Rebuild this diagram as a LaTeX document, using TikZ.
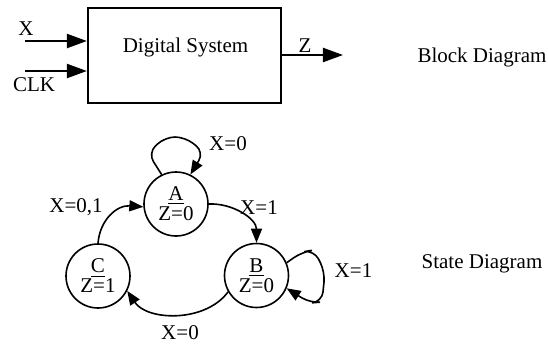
\documentclass[tikz,border=0pt]{standalone}
\usepackage{fontspec}
\setmainfont{Liberation Serif}
\usetikzlibrary{arrows.meta}

\begin{document}
\begin{tikzpicture}[
    x=0.5pt,y=0.5pt,
    every node/.style={font=\fontsize{10.5}{10}\selectfont},
    box/.style={
        draw,line width=1.1pt,
        minimum width=96.5pt,minimum height=47.5pt
    },
    state/.style={
        draw,circle,line width=0.8pt,
        minimum size=32pt,inner sep=0pt,align=center
    },
    sig/.style={line width=1.1pt,-{Triangle[length=10pt,width=7pt]}},
    trans/.style={line width=0.8pt,-{Triangle[length=7pt,width=5.5pt]}},
    lbl/.style={inner sep=0pt}
]
\useasboundingbox (0,0) rectangle (548,345);
% block diagram
\node[box] (sys) at (184.5,289.5) {};
\node[lbl] (systext) at (185.5,297.5) {Digital System};
\coordinate (xin) at (25,304);
\coordinate (clkin) at (25,274);
\coordinate (zout) at (343,290);
\draw[sig] (xin) -- (xin -| sys.west);
\draw[sig] (clkin) -- (clkin -| sys.west);
\draw[sig] (zout -| sys.east) -- (zout);
\node[lbl] (xlabel) at (26,316.5) {X};
\node[lbl] (clklabel) at (34,260.5) {CLK};
\node[lbl] (zlabel) at (305,299) {Z};
\node[lbl] (blockcap) at (482,287.5) {Block Diagram};

% state diagram
\node[state] (A) at (176,141) {\underline{A}\\Z=0};
\node[state] (B) at (256.5,69.5) {\underline{B}\\Z=0};
\node[state] (C) at (98,69) {\underline{C}\\Z=1};
\draw[trans,rounded corners=5pt] (A.116) -- (148,192) -- (165,208)
  -- (185,208) -- (204,193) -- (A.64);
\draw[trans,rounded corners=5pt] (B.23) -- (302,93) -- (314,95)
  -- (325,73) -- (322,43) -- (310,42) -- (B.337);
\draw[trans] (A.east) .. controls +(24,1) and +(0,24) .. (B.north);
\draw[trans] (C.north) .. controls +(2,24) and +(-26,2) .. (A.185);
\draw[trans] (B.210) .. controls +(-23,-31) and +(20,-30) .. (C.333);
\node[lbl] (lblaa) at (228,201) {X=0};
\node[lbl] (lblab) at (259,137) {X=1};
\node[lbl] (lblca) at (76,138) {X=0,1};
\node[lbl] (lblbc) at (180,12) {X=0};
\node[lbl] (lblbb) at (353.5,74) {X=1};
\node[lbl] (statecap) at (482,81.5) {State Diagram};
\end{tikzpicture}
\end{document}
